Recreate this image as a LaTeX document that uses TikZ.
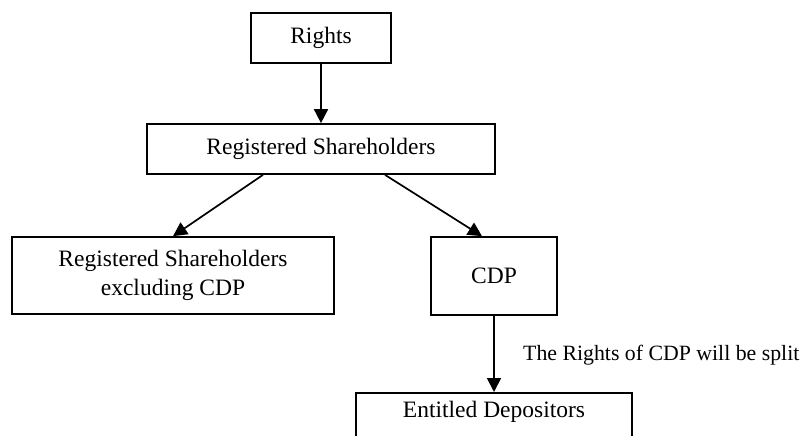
\documentclass[tikz,border=0pt]{standalone}
\usepackage{fontspec}
\setmainfont{Liberation Serif}
\usetikzlibrary{arrows.meta}
\begin{document}
\begin{tikzpicture}[x=1pt,y=-1pt,
  box/.style={draw,line width=1.7pt,inner sep=0pt,align=center,font=\fontsize{23.5}{29}\selectfont},
  lbl/.style={inner sep=0pt,font=\fontsize{21.8}{26}\selectfont},
  arr/.style={line width=1.7pt,-{Triangle[length=14pt,width=14pt]}}]
\useasboundingbox (0,0) rectangle (808,436);
\clip (0,0) rectangle (808,436);
\node[box,minimum width=140pt,minimum height=50pt] (rights) at (321,38) {Rights};
\node[box,minimum width=348pt,minimum height=50pt] (reg) at (321,149) {Registered Shareholders};
\node[box,minimum width=322pt,minimum height=77pt] (excl) at (173,275.5) {Registered Shareholders\\excluding CDP};
\node[box,minimum width=126pt,minimum height=78pt] (cdp) at (494,276) {CDP};
\node[box,anchor=north,minimum width=276pt,text height=25pt,text depth=50pt] (ent) at (494,392) {Entitled Depositors};
\node[lbl,anchor=base west] (split) at (523,360) {The Rights of CDP will be split};
\draw[arr] (rights.south) -- (reg.north);
\draw[arr] (reg.south -| 263,0) -- (excl.north);
\draw[arr] (reg.south -| 385,0) -- (excl.north -| 482,0);
\draw[arr] (cdp.south) -- (ent.north);
\end{tikzpicture}
\end{document}
